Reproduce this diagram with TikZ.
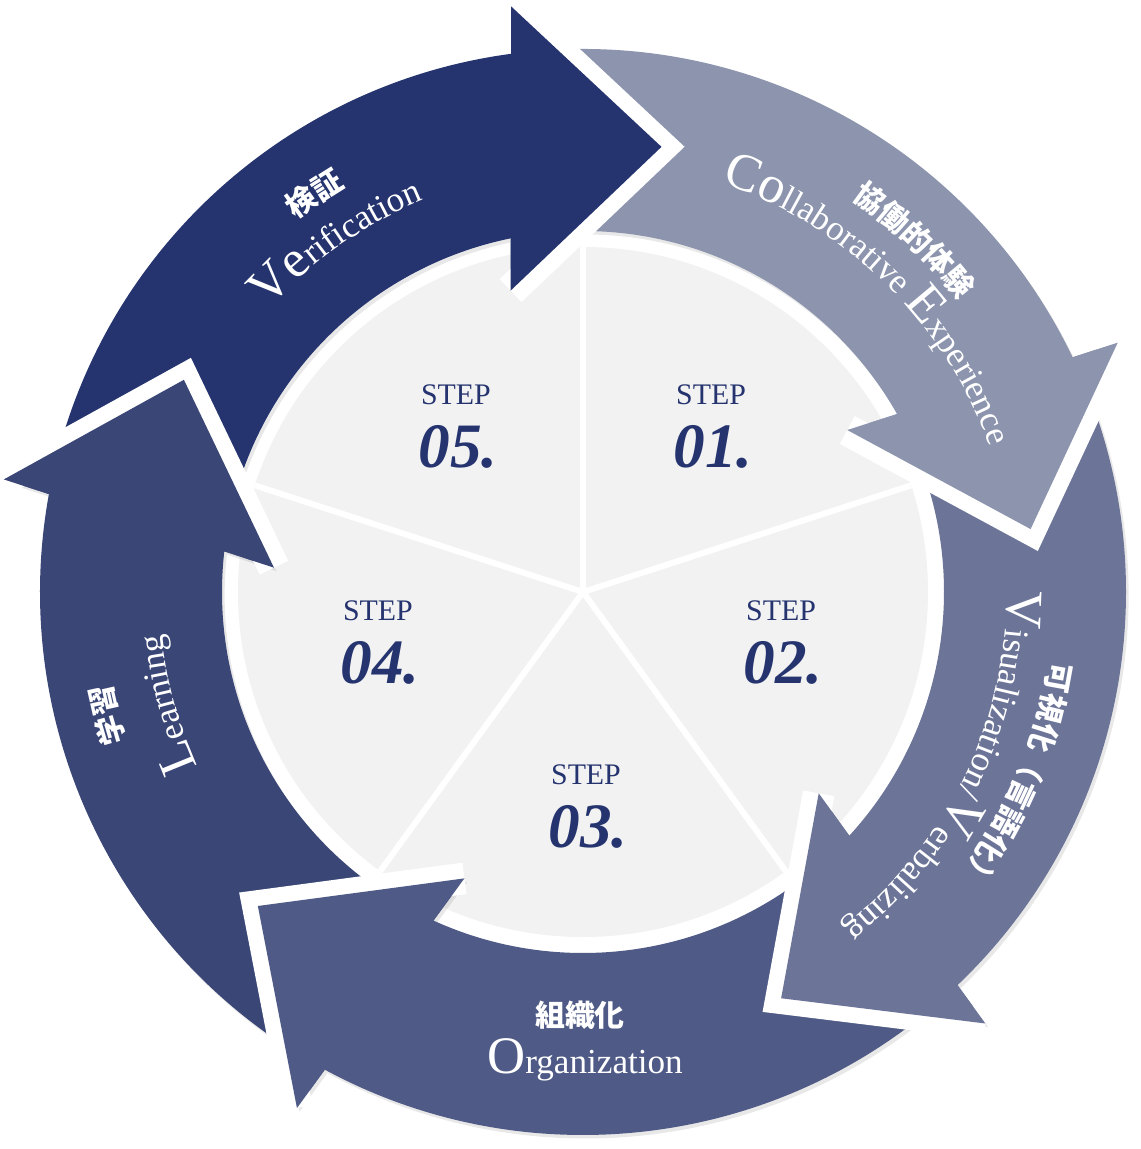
\documentclass[tikz,border=0pt]{standalone}
\usepackage{fontspec}
\setmainfont{Liberation Serif}
\newfontfamily\cjk{Noto Sans CJK JP}
\usetikzlibrary{decorations.text,shadows}

\definecolor{stepblue}{RGB}{37,52,111}
\definecolor{verif}{RGB}{37,52,111}
\definecolor{collab}{RGB}{140,148,174}
\definecolor{visual}{RGB}{108,117,152}
\definecolor{organ}{RGB}{79,91,134}
\definecolor{learn}{RGB}{57,70,118}
\definecolor{disc}{RGB}{242,242,242}

\newcommand{\capsz}{\fontsize{30}{30}\selectfont}
\newcommand{\txtsz}{\fontsize{20}{20}\selectfont}
\newcommand{\jpsz}{\cjk\bfseries\fontsize{17}{17}\selectfont}

\tikzset{
  steptext/.style={text=stepblue, font=\fontsize{17}{17}\selectfont},
  stepnum/.style={text=stepblue, font=\bfseries\itshape\fontsize{36}{36}\selectfont},
  ringtext/.style={decorate, decoration={text along path, text align=center,
    text color=white, text={#1}}},
  headline/.style={white, line width=18pt, line join=miter},
  softshadow/.style={drop shadow={shadow xshift=1.5pt, shadow yshift=-2pt, opacity=0.18}},
}

\begin{document}
\begin{tikzpicture}[x=0.02cm,y=0.02cm]
\path[use as bounding box, fill=white] (-583,-557) rectangle (558,592);

\fill[disc] (0,0) circle[radius=345];      %中心の円
\foreach \a in {90,18,-54,-126,-198}
\draw[white, line width=3.4pt] (0,0) -- (\a:345);   %区切り線

% 矢印の帯
\foreach \t/\c in {80/verif, 8/collab, -64/visual, -136/organ, -208/learn}
{
	\fill[\c, softshadow] (\t+89:543) arc[start angle=\t+89, end angle=\t+17.6, radius=543]
		-- (\t+17:590) -- (\t:452) -- (\t+23.5:310) -- (\t+21.5:361)
		arc[start angle=\t+21.5, end angle=\t+89, radius=361] -- cycle;
};

% 矢印の先端（白い縁取り）
\foreach \t/\c in {80/verif, 8/collab, -64/visual, -136/organ, -208/learn}
{
	\draw[headline] (\t+17:590) -- (\t:452) -- (\t+23.5:310);
	\fill[\c] (\t+17:590) -- (\t:452) -- (\t+23.5:310) -- cycle;
};

% STEP
\foreach \i/\x/\y in {01/128/197, 02/198/-19, 03/3/-183, 04/-205/-19, 05/-127/197}
{
	\node[steptext] (step\i) at (\x,\y) {STEP};
	\node[stepnum] (num\i) at (\x+2,\y-52) {\i.};
};

% 帯の文字
\path[ringtext={|\capsz|Ve|\txtsz|rification}]
	(150:423) arc[start angle=150, end angle=100, radius=423];
\path[ringtext={|\jpsz|検証}]
	(149:470) arc[start angle=149, end angle=99, radius=470];
\path[ringtext={|\capsz|Co|\txtsz|llaborative |\capsz|E|\txtsz|xperience}]
	(80.5:432) arc[start angle=80.5, end angle=10.5, radius=432];
\path[ringtext={|\jpsz|協働的体験}]
	(76.7:476) arc[start angle=76.7, end angle=16.7, radius=476];
\path[ringtext={|\capsz|V|\txtsz|isualization/|\capsz|V|\txtsz|erbalizing}]
	(14:424) arc[start angle=14, end angle=-66, radius=424];
\path[ringtext={|\jpsz|可視化（言語化）}]
	(12:472) arc[start angle=12, end angle=-58, radius=472];
\path[ringtext={|\capsz|L|\txtsz|earning}]
	(220:423) arc[start angle=220, end angle=170, radius=423];
\path[ringtext={|\jpsz|学習}]
	(215:481) arc[start angle=215, end angle=174, radius=481];

\node[text=white, font=\jpsz] (orgjp) at (-3,-423) {組織化};
\node[text=white, anchor=base] (orgen) at (2,-481) {\capsz O\txtsz rganization};
\end{tikzpicture}
\end{document}
